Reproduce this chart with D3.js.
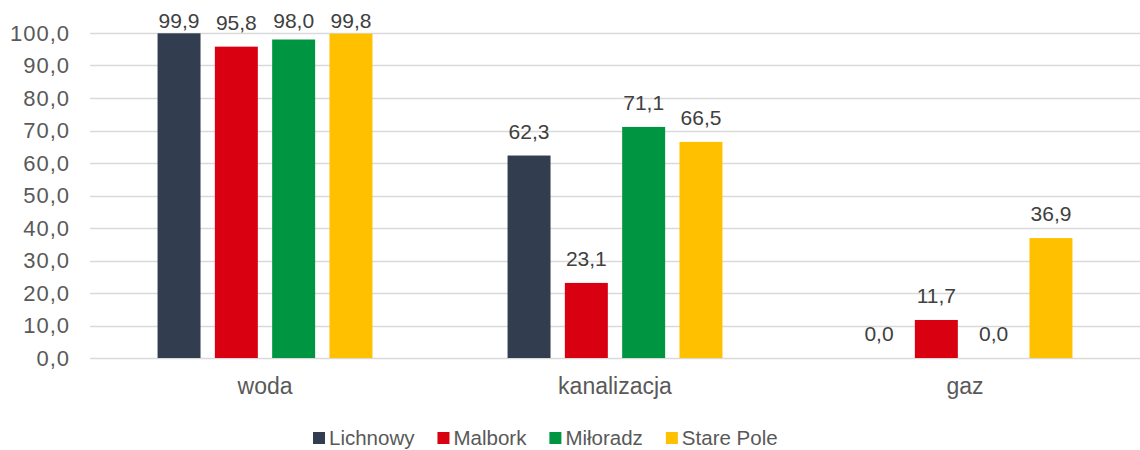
<!DOCTYPE html>
<html>
<head>
<meta charset="utf-8">
<script src="https://cdn.jsdelivr.net/npm/d3@7"></script>
<style>
  body { margin: 0; background: #fff; }
  svg { display: block; font-family: "Liberation Sans", Arial, sans-serif; }
</style>
</head>
<body>
<svg id="chart"></svg>
<script>
const categories = ['woda', 'kanalizacja', 'gaz'];
const seriesNames = ['Lichnowy', 'Malbork', 'Miłoradz', 'Stare Pole'];
const colors = ['#333d50', '#d90012', '#009540', '#ffc000'];
const lichnowy = [99.9, 62.3, 0.0];
const malbork = [95.8, 23.1, 11.7];
const miloradz = [98.0, 71.1, 0.0];
const starePole = [99.8, 66.5, 36.9];
const yTicks = [0, 10, 20, 30, 40, 50, 60, 70, 80, 90, 100];

const seriesValues = [lichnowy, malbork, miloradz, starePole];

const width = 1140, height = 450;
const margin = { top: 33, right: 0, bottom: 92, left: 90 };

const svg = d3.select('#chart')
  .attr('width', width)
  .attr('height', height);

const fmt = v => v.toFixed(1).replace('.', ',');

// Scales
const x0 = d3.scaleBand()
  .domain(categories)
  .range([margin.left, width - margin.right])
  .paddingInner(0.386)
  .paddingOuter(0.193);

const x1 = d3.scaleBand()
  .domain(seriesNames)
  .range([0, x0.bandwidth()])
  .paddingInner(0.25);

const y = d3.scaleLinear()
  .domain([0, 100])
  .range([height - margin.bottom, margin.top]);

// Gridlines
svg.append('g')
  .selectAll('line')
  .data(yTicks)
  .join('line')
  .attr('x1', margin.left)
  .attr('x2', width - margin.right)
  .attr('y1', d => Math.round(y(d)) + 0.5)
  .attr('y2', d => Math.round(y(d)) + 0.5)
  .attr('stroke', '#d9d9d9')
  .attr('stroke-width', 1.5);

// Y axis labels
const yAxis = d3.axisLeft(y).tickValues(yTicks).tickFormat(fmt).tickSize(0).tickPadding(20);
svg.append('g')
  .attr('transform', `translate(${margin.left},0)`)
  .call(yAxis)
  .call(g => g.select('.domain').remove())
  .call(g => g.selectAll('text')
    .attr('fill', '#595959')
    .attr('font-size', 22)
    .attr('letter-spacing', 1)
    .attr('font-family', '"Liberation Sans", Arial, sans-serif'));

// X axis labels
const xAxis = d3.axisBottom(x0).tickSize(0).tickPadding(20);
svg.append('g')
  .attr('transform', `translate(0,${y(0)})`)
  .call(xAxis)
  .call(g => g.select('.domain').remove())
  .call(g => g.selectAll('text')
    .attr('fill', '#595959')
    .attr('font-size', 23)
    .attr('font-family', '"Liberation Sans", Arial, sans-serif'));

// Bars
const groups = svg.append('g')
  .selectAll('g')
  .data(categories)
  .join('g')
  .attr('transform', d => `translate(${x0(d)},0)`);

groups.selectAll('rect')
  .data((c, i) => seriesNames.map((s, j) => ({ s, j, v: seriesValues[j][i] })))
  .join('rect')
  .attr('x', d => x1(d.s))
  .attr('y', d => y(d.v))
  .attr('width', x1.bandwidth())
  .attr('height', d => y(0) - y(d.v))
  .attr('fill', d => colors[d.j]);

groups.selectAll('text')
  .data((c, i) => seriesNames.map((s, j) => ({ s, j, v: seriesValues[j][i] })))
  .join('text')
  .attr('x', d => x1(d.s) + x1.bandwidth() / 2)
  .attr('y', d => Math.max(y(d.v) - 17, 28))
  .attr('text-anchor', 'middle')
  .attr('font-size', 21)
  .attr('fill', '#404040')
  .text(d => fmt(d.v));

// Legend
const legend = svg.append('g').attr('transform', 'translate(313,0)');
let lx = 0;
seriesNames.forEach((name, i) => {
  const item = legend.append('g').attr('transform', `translate(${lx},0)`);
  item.append('rect')
    .attr('x', 0).attr('y', 432)
    .attr('width', 12).attr('height', 12)
    .attr('fill', colors[i]);
  const t = item.append('text')
    .attr('x', 16).attr('y', 445)
    .attr('font-size', 20.5)
    .attr('fill', '#595959')
    .text(name);
  lx += 16 + t.node().getComputedTextLength() + 23;
});
</script>
</body>
</html>
